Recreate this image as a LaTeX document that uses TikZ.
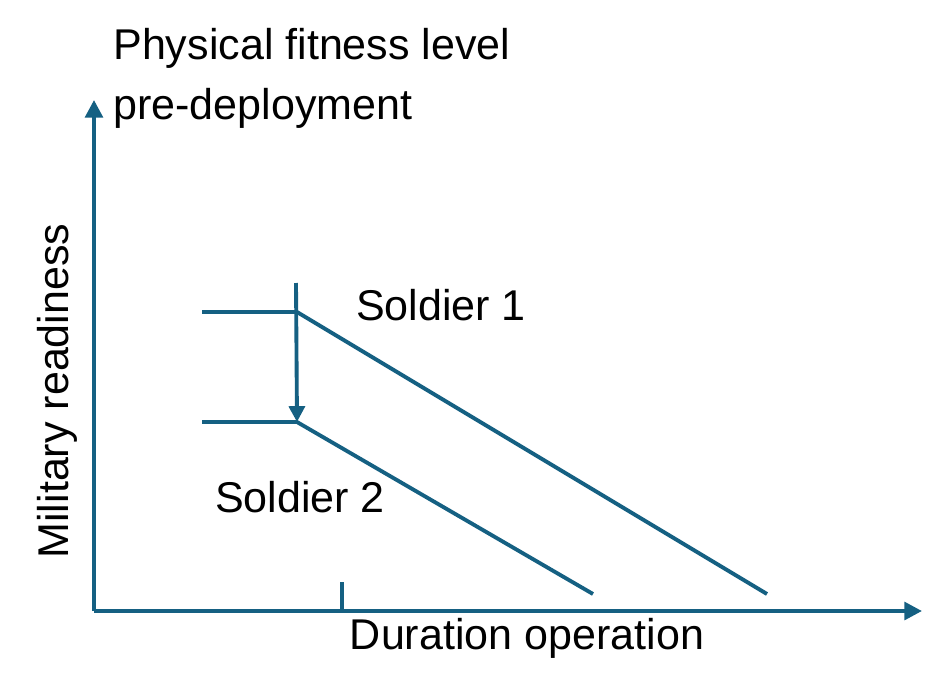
\documentclass[tikz,border=0pt]{standalone}
\usepackage{fontspec}
\setmainfont{Liberation Sans}
\usetikzlibrary{arrows.meta}
\definecolor{axisblue}{HTML}{156082}
\begin{document}
\begin{tikzpicture}[x=0.02cm,y=-0.02cm,every node/.style={font=\fontsize{24.5}{29}\selectfont,inner sep=0pt},
  curve/.style={draw=axisblue,line width=2.2pt},
  axis/.style={curve,-{Triangle[length=10pt,width=10pt]}}]
\useasboundingbox (0,0) rectangle (950,683);
% axes
\coordinate (O) at (94,611);
\coordinate (ytop) at (94,100);
\coordinate (xend) at (922,611);
\draw[axis] (O) -- (ytop);
\draw[axis] (O) -- (xend);
\coordinate (tickb) at (342,611);
\coordinate (tickt) at (342,582);
\draw[curve] (tickb) -- (tickt);
% soldier 1
\coordinate (s1a) at (202,312);
\coordinate (s1b) at (297,312);
\coordinate (s1c) at (767,594);
\draw[curve] (s1a) -- (s1b) -- (s1c);
% soldier 2
\coordinate (s2a) at (202,422);
\coordinate (s2b) at (297,422);
\coordinate (s2c) at (593,594);
\draw[curve] (s2a) -- (s2b) -- (s2c);
% drop
\coordinate (drop) at (296,283);
\draw[axis,-{Triangle[length=9pt,width=9pt]}] (drop) -- (s2b);
% labels
\node[anchor=west] (title1) at (113,48) {Physical fitness level};
\node[anchor=west] (title2) at (113,108) {pre-deployment};
\node (sol1) at (441,305) {Soldier 1};
\node (sol2) at (300,497) {Soldier 2};
\node (xlab) at (527,638) {Duration operation};
\node[rotate=90] (ylab) at (57,391) {Military readiness};
\end{tikzpicture}
\end{document}
